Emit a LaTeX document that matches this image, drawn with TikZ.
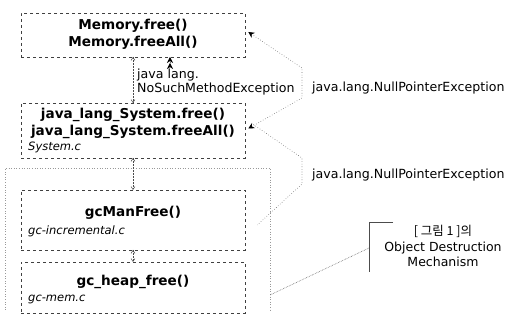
\documentclass[tikz,border=0pt]{standalone}
\usepackage{fontspec}
\setmainfont{DejaVu Sans}
\newfontfamily\krfont{Noto Sans CJK KR}
\usetikzlibrary{arrows.meta}

\tikzset{
	box/.style={draw=black!75, dashed, line width=0.6pt, minimum width=224pt, inner sep=0pt},
	fn/.style={align=center, font=\fontsize{13.6}{17.5}\selectfont\bfseries, inner sep=0pt},
	src/.style={anchor=west, font=\fontsize{11.5}{13}\selectfont\itshape, inner sep=0pt},
	lbl/.style={anchor=west, align=left, font=\fontsize{12.6}{14.5}\selectfont, inner sep=0pt},
	call/.style={draw=black!70, densely dotted, line width=0.5pt, -{Straight Barb[length=3pt,width=4pt]}},
	exc/.style={draw=black!55, dotted, line width=0.6pt},
	region/.style={draw=black!40, dotted, line width=0.6pt}
}

\begin{document}
\begin{tikzpicture}[x=1pt,y=-1pt]
	
	\useasboundingbox (0,0) rectangle (507,323);
	
	\node[box, minimum height=44pt] (mem)    at (133, 35)    {};
	\node[box, minimum height=55pt] (sys)    at (133, 130.5) {};
	\node[box, minimum height=60pt] (gcman)  at (133, 220)   {};
	\node[box, minimum height=51pt] (heap)   at (133, 287.5) {};
	
	\node[fn] (memfn)   at (133, 34.5)  {Memory.free()\\Memory.freeAll()};
	\node[fn] (sysfn)   at (133, 123.5) {java\_lang\_System.free()\\java\_lang\_System.freeAll()};
	\node[src] (sysc)   at (28, 147)    {System.c};
	\node[fn] (gcmanfn) at (133, 213)   {gcManFree()};
	\node[src] (gcmanc) at (28, 231)    {gc-incremental.c};
	\node[fn] (heapfn)  at (133, 282)   {gc\_heap\_free()};
	\node[src] (heapc)  at (28, 299)    {gc-mem.c};
	
	\node[lbl] (nsme) at (137, 82)  {java lang.\\NoSuchMethodException};
	\node[lbl] (npe1) at (312, 88)  {java.lang.NullPointerException};
	\node[lbl] (npe2) at (312, 175) {java.lang.NullPointerException};
	
	\node[align=center, font=\fontsize{12.5}{15.5}\selectfont, inner sep=0pt] (note) at (443, 246)
		{{\krfont [ 그림 1 ]의}\\Object Destruction\\Mechanism};
	
	\draw[region] (5,310) -- (5,168) -- (270,168) -- (270,310);
	
	\path[call] (133,57)  edge (133,103);
	\path[call] (133,158) edge (133,190);
	\path[call] (133,250) edge (133,262);
	\path[exc, -{Stealth[length=6pt,width=6pt,black]}] (170,63) edge (170,57);
	
	\coordinate (e1a) at (302, 68);
	\coordinate (e1b) at (302, 98);
	\coordinate (e2a) at (302, 158);
	\coordinate (e2b) at (302, 184);
	\draw[exc, {Stealth[length=6pt,width=6pt,black]}-{Stealth[length=6pt,width=6pt,black]}] ([xshift=3pt,yshift=3pt]mem.east) -- (e1a) -- (e1b) -- ([xshift=3pt,yshift=2pt]sys.east);
	\draw[exc] ([xshift=8pt,yshift=6pt]sys.east) -- (e2a) -- (e2b) -- ([xshift=12pt,yshift=-5pt]gcman.east);
	
	\coordinate (brtop) at (393, 222);
	\coordinate (brbot) at (369, 272);
	\coordinate (lead)  at (270, 295);
	\draw[black!70, line width=0.6pt] (brtop) -- (369,222) -- (brbot);
	\draw[black!60, densely dotted, line width=0.6pt] (369,248) -- (lead);
	
\end{tikzpicture}
\end{document}
